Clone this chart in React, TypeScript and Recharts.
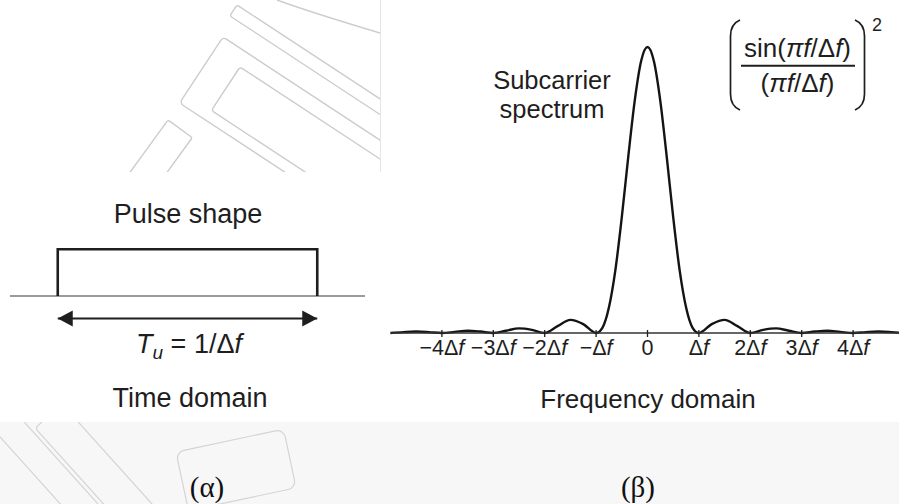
import React from "react";
import { LineChart, Line, XAxis, YAxis, ReferenceLine } from "recharts";

// subcarrier power spectrum, f in units of Δf, normalised to the main lobe
const FREQ = [
  -5, -4.75, -4.5, -4.25, -4, -3.75, -3.5, -3.25, -3, -2.75, -2.5, -2.25, -2,
  -1.75, -1.5, -1.25, -1, -0.875, -0.75, -0.625, -0.5, -0.375, -0.25, -0.125,
  0, 0.125, 0.25, 0.375, 0.5, 0.625, 0.75, 0.875, 1, 1.25, 1.5, 1.75, 2, 2.25,
  2.5, 2.75, 3, 3.25, 3.5, 3.75, 4, 4.25, 4.5, 4.75, 5,
];
const POWER = [
  0, 0.003, 0.005, 0.003, 0, 0.004, 0.008, 0.005, 0, 0.008, 0.016, 0.011, 0,
  0.024, 0.046, 0.031, 0, 0.019, 0.09, 0.22, 0.405, 0.615, 0.81, 0.95,
  1, 0.95, 0.81, 0.615, 0.405, 0.22, 0.09, 0.019, 0, 0.031, 0.046, 0.024, 0,
  0.011, 0.016, 0.008, 0, 0.005, 0.008, 0.004, 0, 0.003, 0.005, 0.003, 0,
];
const FREQ_TICKS = [-4, -3, -2, -1, 0, 1, 2, 3, 4];
const FREQ_TICK_LABELS = ["−4Δf", "−3Δf", "−2Δf", "−Δf", "0", "Δf", "2Δf", "3Δf", "4Δf"];

// rectangular pulse, t in units of Tu
const PULSE_T = [-0.5, -0.5, 0.5, 0.5];
const PULSE_LEVEL = [0, 1, 1, 0];
const TIME_DOMAIN: [number, number] = [-0.684, 0.684];
const ARROW_T = [-0.5, 0.5];
const ARROW_LEVEL = -0.48;

const spectrum = FREQ.map((f, i) => ({ f, p: POWER[i] }));
const pulse = PULSE_T.map((t, i) => ({ t, v: PULSE_LEVEL[i] }));
const arrow = ARROW_T.map((t) => ({ t, v: ARROW_LEVEL }));

const FONT = "'Liberation Sans', Arial, Helvetica, sans-serif";
const SERIF = "'Liberation Serif', 'Times New Roman', serif";
const INK = "#1e1e1e";

const FreqTick = (props: any) => {
  const { x, y, payload } = props;
  const label = FREQ_TICK_LABELS[FREQ_TICKS.indexOf(payload.value)] ?? "";
  const hasF = label.endsWith("f");
  return (
    <g>
      <line x1={x} x2={x} y1={y - 3} y2={y + 4} stroke={INK} strokeWidth={1.3} />
      <text x={x} y={y + 22} textAnchor="middle" fontFamily={FONT} fontSize={21.5} fill={INK}>
        {hasF ? label.slice(0, -1) : label}
        {hasF && <tspan fontStyle="italic">f</tspan>}
      </text>
    </g>
  );
};

const ArrowHead = (props: any) => {
  const { cx, cy, index } = props;
  const dir = index === 0 ? 1 : -1;
  const d = `M${cx},${cy} L${cx + dir * 15},${cy - 8} L${cx + dir * 15},${cy + 8} Z`;
  return <path key={`head-${index}`} d={d} fill={INK} />;
};

const Watermark = () => (
  <svg width={899} height={504} style={{ position: "absolute", left: 0, top: 0 }}>
    <defs>
      <clipPath id="wm-top">
        <rect x={0} y={0} width={380} height={172} />
      </clipPath>
      <clipPath id="wm-bottom">
        <rect x={0} y={422} width={320} height={82} />
      </clipPath>
    </defs>
    <rect x={0} y={422} width={899} height={82} fill="#f7f7f7" />
    <line x1={380.5} y1={0} x2={380.5} y2={172} stroke="#e6e6e6" />
    <g clipPath="url(#wm-top)" fill="none" stroke="#cccccc" strokeWidth={1.4}>
      <rect x={0} y={0} width={400} height={79} rx={4} transform="translate(223,37) rotate(33.3)" />
      <rect x={0} y={0} width={300} height={52} rx={3} transform="translate(240,67) rotate(33.3)" />
      <rect x={0} y={0} width={300} height={13} rx={2} transform="translate(237,5) rotate(33.3)" />
      <rect x={0} y={0} width={30} height={100} rx={2} transform="translate(168,120) rotate(36)" />
      <path d="M277,0 Q310,12 380,33" />
    </g>
    <g clipPath="url(#wm-bottom)" fill="none" stroke="#d4d4d4" strokeWidth={1.2}>
      <rect x={0} y={0} width={200} height={28} rx={3} transform="translate(8,404) rotate(48)" />
      <rect x={0} y={0} width={200} height={36} rx={3} transform="translate(62,404) rotate(48)" />
      <rect x={0} y={0} width={110} height={60} rx={8} transform="translate(176,452) rotate(-12)" />
    </g>
  </svg>
);

const Labels = () => (
  <svg
    width={899}
    height={504}
    style={{ position: "absolute", left: 0, top: 0, pointerEvents: "none" }}
    fontFamily={FONT}
    fill={INK}
  >
    <text x={188} y={223} textAnchor="middle" fontSize={27}>Pulse shape</text>
    <text x={189} y={353} textAnchor="middle" fontSize={27}>
      <tspan fontStyle="italic">T</tspan>
      <tspan fontStyle="italic" fontSize={19} dy={6}>u</tspan>
      <tspan dy={-6}> = 1/Δ</tspan>
      <tspan fontStyle="italic">f</tspan>
    </text>
    <text x={190} y={407} textAnchor="middle" fontSize={27}>Time domain</text>

    <text x={552} y={89} textAnchor="middle" fontSize={25.5}>Subcarrier</text>
    <text x={552} y={118} textAnchor="middle" fontSize={25.5}>spectrum</text>
    <text x={648} y={408} textAnchor="middle" fontSize={26}>Frequency domain</text>

    <text x={797.5} y={57} textAnchor="middle" fontSize={26}>
      sin(<tspan fontStyle="italic">πf</tspan>/Δ<tspan fontStyle="italic">f</tspan>)
    </text>
    <line x1={741} x2={855} y1={65.7} y2={65.7} stroke={INK} strokeWidth={2} />
    <text x={797.5} y={92} textAnchor="middle" fontSize={26}>
      (<tspan fontStyle="italic">πf</tspan>/Δ<tspan fontStyle="italic">f</tspan>)
    </text>
    <path d="M740,20 Q730.5,24 730.5,36 L730.5,94 Q730.5,106 740,110" fill="none" stroke={INK} strokeWidth={1.7} />
    <path d="M855,20 Q864.5,24 864.5,36 L864.5,94 Q864.5,106 855,110" fill="none" stroke={INK} strokeWidth={1.7} />
    <text x={877} y={31} textAnchor="middle" fontSize={18}>2</text>

    <text x={207} y={497} textAnchor="middle" fontFamily={SERIF} fontSize={29} fill="#111">(α)</text>
    <text x={638} y={497} textAnchor="middle" fontFamily={SERIF} fontSize={29} fill="#111">(β)</text>
  </svg>
);

export default function App() {
  return (
    <div
      style={{
        position: "absolute",
        left: 0,
        top: 0,
        width: 899,
        height: 504,
        overflow: "hidden",
        background: "#ffffff",
      }}
    >
      <Watermark />

      {/* time domain: rectangular pulse of length Tu */}
      <div style={{ position: "absolute", left: 0, top: 0 }}>
        <LineChart width={380} height={504} margin={{ top: 249.3, right: 15, bottom: 161.3, left: 10 }}>
          <XAxis type="number" dataKey="t" domain={TIME_DOMAIN} hide allowDataOverflow />
          <YAxis type="number" domain={[-1, 1]} hide />
          <ReferenceLine y={0} stroke="#7a7a7a" strokeWidth={1.5} />
          <Line
            data={pulse}
            dataKey="v"
            type="linear"
            stroke={INK}
            strokeWidth={2.6}
            strokeLinejoin="miter"
            dot={false}
            isAnimationActive={false}
          />
          <Line
            data={arrow}
            dataKey="v"
            type="linear"
            stroke={INK}
            strokeWidth={2}
            dot={ArrowHead}
            activeDot={false}
            isAnimationActive={false}
          />
        </LineChart>
      </div>

      {/* frequency domain: sinc^2 subcarrier spectrum */}
      <div style={{ position: "absolute", left: 0, top: 0 }}>
        <LineChart
          width={910}
          height={504}
          data={spectrum}
          margin={{ top: 47, right: 5.5, bottom: 141, left: 390.5 }}
        >
          <XAxis
            type="number"
            dataKey="f"
            domain={[-5, 5]}
            ticks={FREQ_TICKS}
            tick={FreqTick}
            tickLine={false}
            tickSize={0}
            tickMargin={0}
            height={30}
            axisLine={{ stroke: "#333333", strokeWidth: 1.3 }}
            interval={0}
          />
          <YAxis type="number" domain={[0, 1]} hide />
          <Line
            dataKey="p"
            type="monotone"
            stroke="#141414"
            strokeWidth={2.4}
            dot={false}
            isAnimationActive={false}
          />
        </LineChart>
      </div>

      <Labels />
    </div>
  );
}
